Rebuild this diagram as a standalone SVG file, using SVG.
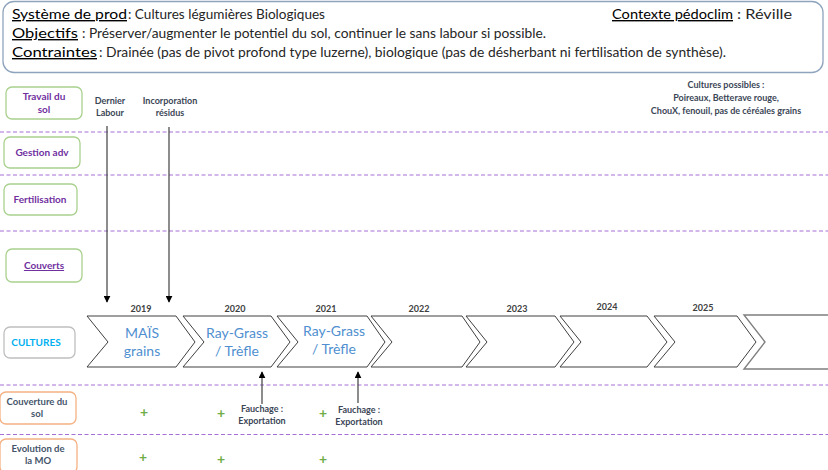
<svg xmlns="http://www.w3.org/2000/svg" width="828" height="470" viewBox="0 0 828 470">
<defs>
<style>
text{font-family:Lato,"Liberation Sans",sans-serif;}
.hd{font-size:14px;fill:#000;text-decoration:underline;}
.ct{font-size:13px;fill:#262626;}
.lbl{font-size:10px;font-weight:bold;fill:#7030a0;text-anchor:middle;}
.lbo{font-size:9.5px;font-weight:bold;fill:#44546a;text-anchor:middle;}
.sm{font-size:9px;font-weight:bold;fill:#3b4656;text-anchor:middle;}
.yr{font-size:9px;font-weight:bold;fill:#404040;text-anchor:middle;}
.crop{font-size:14px;fill:#4f8fd0;text-anchor:middle;}
.plus{font-size:14px;font-weight:bold;fill:#70ad47;text-anchor:middle;}
.boxg{fill:#fff;stroke:#a9d18e;stroke-width:1.3;}
.boxo{fill:#fff;stroke:#f4b183;stroke-width:1.3;}
.boxc{fill:#fff;stroke:#bfbfbf;stroke-width:1.3;}
.dash{stroke:#a56fd6;stroke-width:1;stroke-dasharray:4 2.5;fill:none;}
.chev{fill:#fff;stroke:#404040;stroke-width:1;}
.arr{stroke:#404040;stroke-width:1.2;fill:none;}
</style>
<marker id="ah" viewBox="0 0 10 10" refX="9" refY="5" markerWidth="7" markerHeight="7" orient="auto" markerUnits="userSpaceOnUse">
<path d="M0,0 L10,5 L0,10 z" fill="#000"/>
</marker>
</defs>
<rect width="828" height="470" fill="#fff"/>

<g id="header">
<rect x="3" y="1.5" width="820" height="71" rx="11" fill="#fff" stroke="#8ea4bd" stroke-width="1.3"/>
<text class="hd" x="12" y="19" textLength="115" lengthAdjust="spacingAndGlyphs">Système de prod</text>
<text class="ct" x="128" y="19" textLength="197" lengthAdjust="spacingAndGlyphs">: Cultures légumières  Biologiques</text>
<text class="hd" x="612" y="19" textLength="121" lengthAdjust="spacingAndGlyphs">Contexte pédoclim</text>
<text class="ct" x="737" y="19" textLength="55" lengthAdjust="spacingAndGlyphs">: Réville</text>
<text class="hd" x="12" y="38" textLength="66" lengthAdjust="spacingAndGlyphs">Objectifs</text>
<text class="ct" x="82" y="38" textLength="464" lengthAdjust="spacingAndGlyphs">: Préserver/augmenter  le potentiel du sol, continuer le sans labour si possible.</text>
<text class="hd" x="12" y="57" textLength="85" lengthAdjust="spacingAndGlyphs">Contraintes</text>
<text class="ct" x="99" y="57" textLength="627" lengthAdjust="spacingAndGlyphs">: Drainée (pas de pivot profond type luzerne), biologique (pas de désherbant ni fertilisation de synthèse).</text>
</g>

<g id="separators">
<line class="dash" x1="0" y1="132" x2="828" y2="132"/>
<line class="dash" x1="0" y1="175" x2="828" y2="175"/>
<line class="dash" x1="0" y1="231" x2="828" y2="231"/>
<line class="dash" x1="0" y1="385" x2="828" y2="385"/>
<line class="dash" x1="0" y1="434.5" x2="828" y2="434.5"/>
</g>

<g id="row-travail">
<rect class="boxg" x="6" y="87" width="76" height="32" rx="6"/>
<text class="lbl" x="44" y="100">Travail du</text>
<text class="lbl" x="44" y="113">sol</text>
</g>
<g id="row-gestion">
<rect class="boxg" x="4" y="137" width="76" height="31" rx="6"/>
<text class="lbl" x="42" y="156">Gestion adv</text>
</g>
<g id="row-fertilisation">
<rect class="boxg" x="4" y="184" width="73" height="31" rx="6"/>
<text class="lbl" x="40" y="203">Fertilisation</text>
</g>
<g id="row-couverts">
<rect class="boxg" x="6" y="249" width="76" height="33" rx="6"/>
<text class="lbl" x="44" y="269" text-decoration="underline">Couverts</text>
</g>
<g id="row-cultures">
<rect class="boxc" x="4" y="327" width="71" height="31" rx="6"/>
<text x="36" y="346" style="font-size:10px;font-weight:bold;fill:#00b0f0;text-anchor:middle;">CULTURES</text>
</g>
<g id="row-couverture">
<rect class="boxo" x="0" y="392" width="76" height="32" rx="6"/>
<text class="lbo" x="37" y="405">Couverture du</text>
<text class="lbo" x="37" y="417">sol</text>
</g>
<g id="row-mo">
<rect class="boxo" x="0" y="439" width="77" height="34" rx="6"/>
<text class="lbo" x="38" y="452">Evolution de</text>
<text class="lbo" x="38" y="464">la MO</text>
</g>

<g id="notes">
<text class="sm" x="110" y="104">Dernier</text>
<text class="sm" x="110" y="116">Labour</text>
<text class="sm" x="170" y="104">Incorporation</text>
<text class="sm" x="170" y="116">résidus</text>
<text class="sm" x="726" y="88">Cultures possibles :</text>
<text class="sm" x="726" y="101">Poireaux, Betterave rouge,</text>
<text class="sm" x="726" y="114">ChouX, fenouil, pas de céréales grains</text>
<text class="sm" x="262" y="412">Fauchage :</text>
<text class="sm" x="262" y="424">Exportation</text>
<text class="sm" x="359" y="413">Fauchage :</text>
<text class="sm" x="359" y="425">Exportation</text>
</g>

<g id="years">
<text class="yr" x="141" y="312">2019</text>
<text class="yr" x="235" y="312">2020</text>
<text class="yr" x="326" y="312">2021</text>
<text class="yr" x="419" y="312">2022</text>
<text class="yr" x="517" y="312">2023</text>
<text class="yr" x="607" y="310">2024</text>
<text class="yr" x="703" y="311">2025</text>
</g>

<g id="chevrons">
<g id="c2019"><path class="chev" d="M87,316 L176,316 L195,342 L176,367 L87,367 L108,342 Z"/>
<text class="crop" x="142" y="338">MAÏS</text><text class="crop" x="142" y="356">grains</text></g>
<g id="c2020"><path class="chev" d="M183,316 L271,316 L290,342 L271,367 L183,367 L204,342 Z"/>
<text class="crop" x="237" y="338">Ray-Grass</text><text class="crop" x="237" y="356">/ Trèfle</text></g>
<g id="c2021"><path class="chev" d="M277,316 L367,316 L385,342 L367,367 L277,367 L298,342 Z"/>
<text class="crop" x="334" y="336">Ray-Grass</text><text class="crop" x="334" y="354">/ Trèfle</text></g>
<g id="c2022"><path class="chev" d="M371,316 L462,316 L480,342 L462,367 L371,367 L392,342 Z"/></g>
<g id="c2023"><path class="chev" d="M466,316 L555,316 L574,342 L555,367 L466,367 L487,342 Z"/></g>
<g id="c2024"><path class="chev" d="M560,316 L647,316 L667,342 L647,367 L560,367 L581,342 Z"/></g>
<g id="c2025"><path class="chev" d="M654,316 L737,316 L756,342 L737,367 L654,367 L675,342 Z"/></g>
<g id="c2026"><path d="M832,315 L744,315 L765,342 L744,369 L832,369" fill="#fff" stroke="#7f7f7f" stroke-width="1.4"/></g>
</g>

<g id="connectors">
<line class="arr" x1="107" y1="126" x2="107" y2="302" marker-end="url(#ah)"/>
<line class="arr" x1="169" y1="127" x2="169" y2="302" marker-end="url(#ah)"/>
<line class="arr" x1="262" y1="404" x2="262" y2="372" marker-end="url(#ah)"/>
<line class="arr" x1="358" y1="403" x2="358" y2="372" marker-end="url(#ah)"/>
</g>

<g id="marks">
<text class="plus" x="144" y="417">+</text>
<text class="plus" x="221" y="418">+</text>
<text class="plus" x="323" y="418">+</text>
<text class="plus" x="143" y="462">+</text>
<text class="plus" x="221" y="464">+</text>
<text class="plus" x="323" y="464">+</text>
</g>
</svg>
